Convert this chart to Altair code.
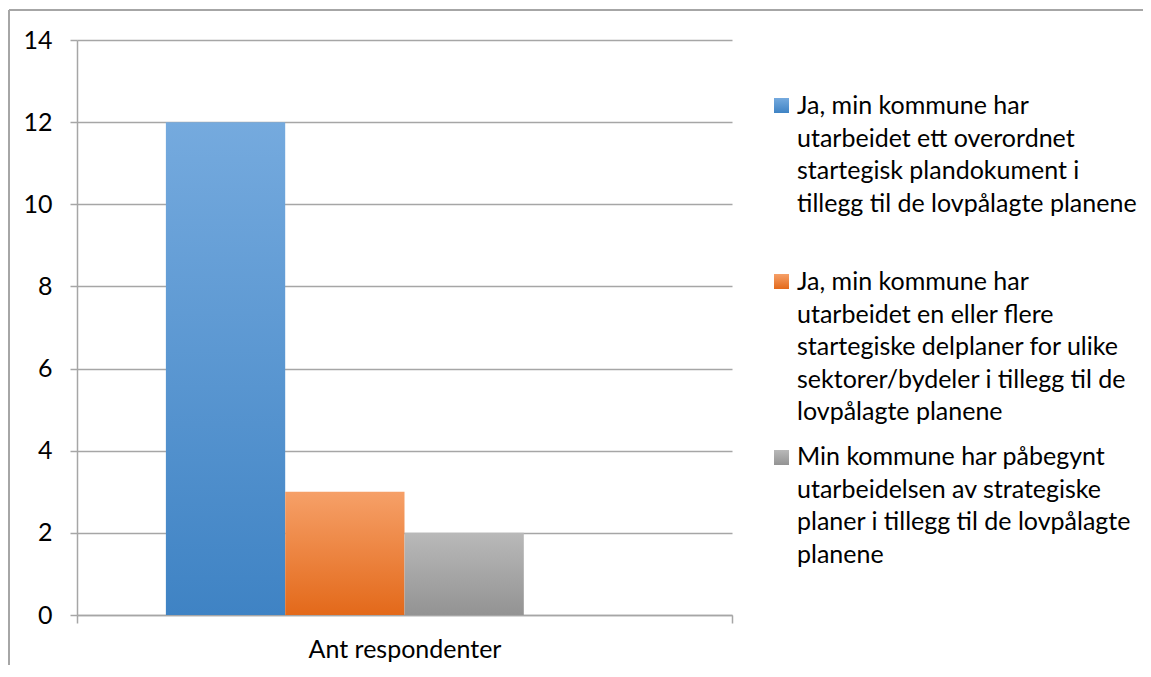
import altair as alt
import pandas as pd

# ---- data ----
category = "Ant respondenter"
series_labels = [
    "Ja, min kommune har\nutarbeidet ett overordnet\nstartegisk plandokument i\ntillegg til de lovpålagte planene",
    "Ja, min kommune har\nutarbeidet en eller flere\nstartegiske delplaner for ulike\nsektorer/bydeler i tillegg til de\nlovpålagte planene",
    "Min kommune har påbegynt\nutarbeidelsen av strategiske\nplaner i tillegg til de lovpålagte\nplanene",
]
values = [12, 3, 2]
y_ticks = [0, 2, 4, 6, 8, 10, 12, 14]

series_names = [s.replace("\n", " ") for s in series_labels]
# an empty fourth slot exists in the original cluster (bars are left of centre)
offset_domain = series_names + ["(tom)"]

df = pd.DataFrame({
    "kategori": [category] * len(values),
    "serie": series_names,
    "label": series_labels,
    "antall": values,
})

FONT = "Lato"
GRAY = "#a6a6a6"
FS = 25


def grad(top, bottom):
    return alt.LinearGradient(
        gradient="linear", x1=0, y1=0, x2=0, y2=1,
        stops=[alt.GradientStop(color=top, offset=0),
               alt.GradientStop(color=bottom, offset=1)],
    )


gradients = [
    grad("#75aade", "#3f83c4"),
    grad("#f6a068", "#e3691a"),
    grad("#b9b9b9", "#939393"),
]

x_enc = alt.X(
    "kategori:N",
    title=None,
    scale=alt.Scale(paddingInner=0, paddingOuter=0),
    axis=alt.Axis(
        labelAngle=0, tickBand="extent", tickSize=8, tickColor=GRAY,
        tickWidth=1.5, domainColor=GRAY, domainWidth=1.5, labelFontSize=FS,
        labelFont=FONT, labelColor="black", labelPadding=14, grid=False,
        labelLimit=1000,
    ),
)
xoff_enc = alt.XOffset(
    "serie:N",
    scale=alt.Scale(domain=offset_domain, paddingInner=0, paddingOuter=0.745),
)
y_enc = alt.Y(
    "antall:Q",
    title=None,
    scale=alt.Scale(domain=[0, 14], nice=False),
    axis=alt.Axis(
        values=y_ticks, tickSize=7, tickColor=GRAY, tickWidth=1.5,
        domainColor=GRAY, domainWidth=1.5, gridColor=GRAY, gridWidth=1.5,
        labelFontSize=FS, labelFont=FONT, labelColor="black", labelPadding=18,
    ),
)

layers = []
for i, name in enumerate(series_names):
    layers.append(
        alt.Chart(df)
        .transform_filter(alt.datum.serie == name)
        .mark_bar(color=gradients[i])
        .encode(x=x_enc, xOffset=xoff_enc, y=y_enc)
    )

# manual legend (square + multi-line text) to the right of the plot
legend_top = [54, 230, 405]
square_top = [58, 234, 410]
for i, name in enumerate(series_names):
    base = alt.Chart(df).transform_filter(alt.datum.serie == name)
    layers.append(
        base.mark_rect(color=gradients[i]).encode(
            x=alt.value(697), x2=alt.value(712),
            y=alt.value(square_top[i]), y2=alt.value(square_top[i] + 15),
        )
    )
    layers.append(
        base.mark_text(
            align="left", baseline="top", lineBreak="\n", lineHeight=32.5,
            fontSize=FS, font=FONT, color="black",
        ).encode(
            x=alt.value(720), y=alt.value(legend_top[i]), text="label:N",
        )
    )

# chart-area border (top and left edges visible in the original crop)
frame_df = pd.DataFrame({"k": [0]})
layers.append(
    alt.Chart(frame_df).mark_rule(color=GRAY, strokeWidth=2).encode(
        x=alt.value(-68), x2=alt.value(1100), y=alt.value(-30)
    )
)
layers.append(
    alt.Chart(frame_df).mark_rule(color=GRAY, strokeWidth=2).encode(
        x=alt.value(-68), y=alt.value(-30), y2=alt.value(700)
    )
)

chart = (
    alt.layer(*layers)
    .properties(
        width=655,
        height=575,
        padding={"left": 69, "top": 32, "right": 411, "bottom": 50},
        autosize=alt.AutoSizeParams(type="none"),
        background="white",
    )
    .configure_view(strokeWidth=0)
)

chart.save("out.html", embed_options={"renderer": "svg", "actions": False})
